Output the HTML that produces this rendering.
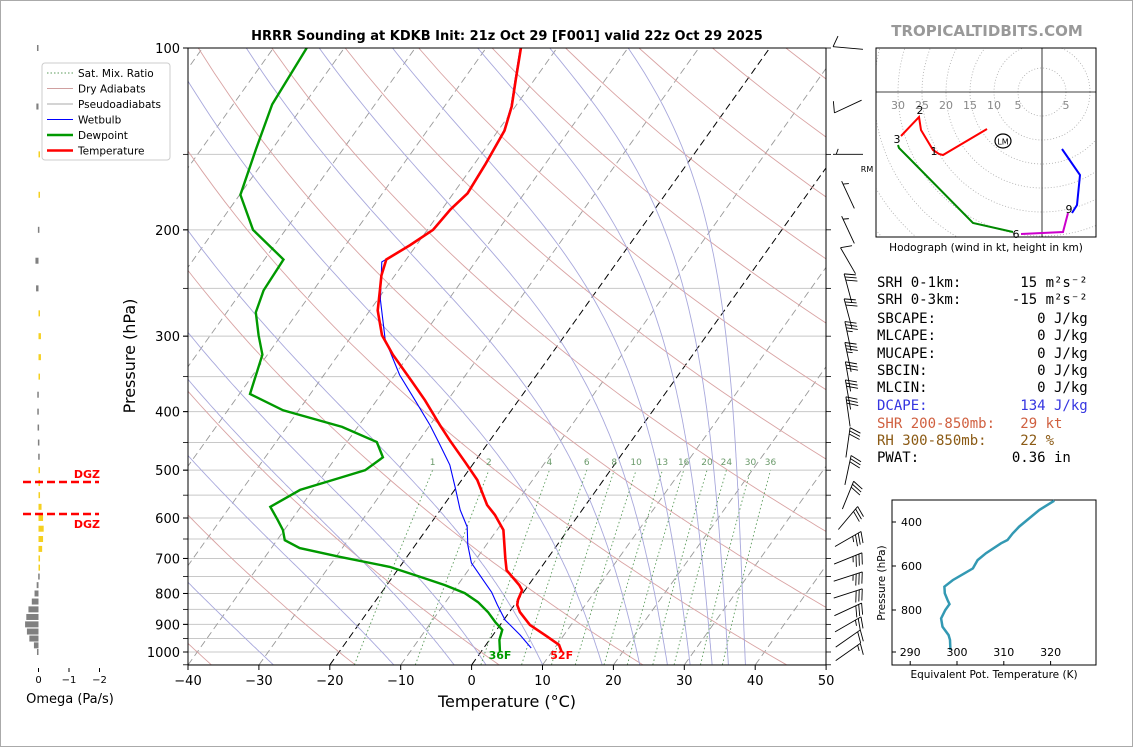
<!DOCTYPE html>
<html><head><meta charset="utf-8"><style>
body{margin:0;background:#fff}
svg text{font-family:"DejaVu Sans","Liberation Sans",sans-serif}
svg text.mono{font-family:"DejaVu Sans Mono","Liberation Mono",monospace;font-size:14px;white-space:pre}
</style></head><body>
<svg id="s" width="1134" height="748" xmlns="http://www.w3.org/2000/svg">
<rect x="0.5" y="0.5" width="1132" height="746" fill="#fff" stroke="#aaa"/>
<defs>
<clipPath id="pc"><rect x="188" y="48" width="638" height="617"/></clipPath>
<clipPath id="hc"><rect x="876" y="48" width="220" height="189"/></clipPath>
</defs>
<g id="bg" clip-path="url(#pc)"></g>
<g id="data" clip-path="url(#pc)"></g>
<rect x="188" y="48" width="638" height="617" fill="none" stroke="#000" stroke-width="1"/>
<g id="axes"></g>
<text x="507" y="40" text-anchor="middle" font-size="13" font-weight="bold">HRRR Sounding at KDKB Init: 21z Oct 29 [F001] valid 22z Oct 29 2025</text>
<text x="987" y="36" text-anchor="middle" font-size="15" font-weight="bold" fill="#999">TROPICALTIDBITS.COM</text>
<text x="507" y="707" text-anchor="middle" font-size="16">Temperature (°C)</text>
<text transform="translate(135,356) rotate(-90)" text-anchor="middle" font-size="16">Pressure (hPa)</text>
<g id="legend"></g>
<g id="omega"></g>
<g id="barbs"></g>
<g id="hodo"></g>
<g id="stats"></g>
<g id="thetae"></g>
</svg>
<script>
// ---- data ----
const tempP=[1000,973,937,902,859,836,820,790,775,732,699,628,593,571,519,485,446,421,383,354,322,299,272,252,238,224,212,200,185,174,156,137,125,113,100];
const tempT=[11.4,10.3,7.3,4.2,1.5,0.4,0.0,-0.4,-1.3,-4.6,-6.0,-9.1,-11.8,-13.9,-17.8,-21.3,-25.7,-28.6,-33.2,-37.3,-42.3,-45.8,-48.9,-50.6,-51.9,-52.8,-50.9,-49.2,-48.8,-48.0,-48.4,-49.1,-50.5,-52.6,-55.1];
const dewP=[1000,955,919,892,859,827,799,775,751,723,696,673,653,628,605,575,539,515,500,476,449,424,398,374,322,299,274,252,224,200,175,147,124,100];
const dewT=[2.7,1.4,0.8,-1.0,-3.0,-5.4,-8.2,-11.8,-16.1,-21.4,-29.4,-36.0,-38.9,-40.2,-41.9,-44.3,-41.8,-37.4,-34.6,-33.4,-35.8,-42.2,-52.2,-58.5,-60.7,-63.2,-65.9,-67.0,-67.3,-74.6,-79.9,-82.3,-84.5,-85.3];
const wbP=[985,937,885,836,796,766,712,665,621,582,535,490,454,421,383,348,304,261,226,212,200,185,174,156,137,125,113,100];
const wbT=[6.7,3.8,0.2,-2.4,-4.5,-6.5,-10.3,-12.6,-14.5,-17.2,-20.1,-23.2,-26.6,-30.0,-34.6,-39.3,-44.9,-49.6,-53.2,-51.0,-49.3,-48.9,-48.1,-48.5,-49.2,-50.6,-52.7,-55.2];
const omegaP=[100,125,150,175,200,225,250,275,300,325,350,375,400,425,450,475,500,525,550,575,600,625,650,675,700,725,750,775,800,825,850,875,900,925,950,975,1000];
const omegaV=[0.05,0.07,-0.03,-0.03,0.02,0.1,0.08,-0.02,-0.08,-0.08,-0.01,0.04,0.04,0.03,0.02,0.01,-0.02,-0.02,-0.05,-0.1,-0.15,-0.17,-0.15,-0.12,-0.05,-0.02,0.01,0.06,0.13,0.22,0.33,0.4,0.44,0.38,0.3,0.15,0.05];
const barbP=[100,125,150,175,200,225,250,275,300,325,350,375,400,450,500,550,600,650,700,750,800,850,900,950,1000];
const barbDir=[275,245,270,335,335,330,345,345,348,348,350,350,352,8,12,22,40,60,68,72,72,65,60,55,55];
const barbSpd=[10,10,5,5,5,10,30,30,35,35,30,30,30,30,30,30,30,35,35,35,30,30,25,20,15];
const thetaeP=[303,345,421,452,482,497,542,573,611,633,664,694,724,755,773,800,838,876,914,936,982];
const thetaeV=[320.8,317.6,313.3,311.9,310.8,309.4,306.2,304.4,303.4,301.6,299.1,297.3,297.4,298.0,298.4,297.5,296.6,296.9,298.2,298.5,298.6];
const xTicks=[-40,-30,-20,-10,0,10,20,30,40,50];
const pTicks=[100,200,300,400,500,600,700,800,900,1000];
const mixW=[1,2,4,6,8,10,13,16,20,24,30,36];
const hodoRed=[[987,129],[943,155],[939,154],[933,150],[921,130],[919,117],[901,136]];
const hodoGreen=[[898,145],[899,148],[908,157],[973,223],[1013,232]];
const hodoMag=[[1021,234],[1063,232],[1068,213]];
const hodoBlue=[[1072,213],[1077,205],[1080,175],[1062,149]];

const NS="http://www.w3.org/2000/svg";
function el(tag,attrs,parent){const e=document.createElementNS(NS,tag);for(const k in attrs)e.setAttribute(k,attrs[k]);parent.appendChild(e);return e;}
function yP(p){return 48+604*Math.log10(p/100);}
function xT(T,p){return 188+(T+40)*7.09+0.713*(665-yP(p));}
const bg=document.getElementById('bg');
function poly(pts,attrs,parent,name){const e=el('polyline',Object.assign({points:pts.map(q=>q[0].toFixed(1)+','+q[1].toFixed(1)).join(' '),fill:'none'},attrs),parent);return e;}
for(let p=100;p<=1050;p+=50){const y=yP(p);const l=el('line',{x1:188,x2:826,y1:y,y2:y,stroke:'#c8c8c8','stroke-width':1},bg);}
for(let T=-120;T<=50;T+=10){const blk=(T===0||T===-20);const l=el('line',{x1:xT(T,1050),y1:yP(1050),x2:xT(T,100),y2:yP(100),stroke:blk?'#000':'#999','stroke-width':blk?1:0.9,'stroke-dasharray':'7,4'},bg);}
// dry adiabats every 20 K
for(let th=173.15;th<=573.15;th+=20){const pts=[];for(let p=1050;p>=100;p-=10){pts.push([xT(th*Math.pow(p/1000,0.2857)-273.15,p),yP(p)]);}poly(pts,{stroke:'#d9a3a3','stroke-width':0.9},bg,'dry-adiabat');}
function es(Tc){return 6.112*Math.exp(17.67*Tc/(Tc+243.5));}
function step(T,p,dp){const e=es(T-273.15);const rs=0.622*e/(p-e);const Lv=2.5e6,Rd=287,cp=1005;const d=(Rd*T+Lv*rs)/(p*(cp+Lv*Lv*rs*0.622/(Rd*T*T)));return T+d*dp;}
[-60,-44,-28,-11,-2.5,2,10,18.4,23.7,27.6,30.8,33.9,36.2,38.6].forEach(T0=>{let T=T0+273.15;const pts=[];
 for(let pp=1050;pp>=100;pp-=5){pts.push([xT(T-273.15,pp),yP(pp)]);T=step(T,pp,-5);}
 poly(pts,{stroke:'#a8a8dc','stroke-width':0.9},bg,'moist-adiabat');});
mixW.forEach(w=>{const pts=[];for(let p=1050;p>=500;p-=10){const e=w*p/(622+w);const L=Math.log(e/6.112);pts.push([xT(243.5*L/(17.67-L),p),yP(p)]);}
 poly(pts,{stroke:'#5a9a5a','stroke-width':0.9,'stroke-dasharray':'1.5,2.5'},bg,'mixing-ratio-line');
 const t=el('text',{x:pts[pts.length-1][0],y:465,'font-size':9,fill:'#6a9a6a','text-anchor':'middle'},document.getElementById('s'));t.textContent=w;});
const dg=document.getElementById('data');
poly(wbP.map((p,i)=>[xT(wbT[i],p),yP(p)]),{stroke:'#0000ff','stroke-width':1.1},dg,'wetbulb-line');
poly(dewP.map((p,i)=>[xT(dewT[i],p),yP(p)]),{stroke:'#009900','stroke-width':2.4},dg,'dewpoint-line');
poly(tempP.map((p,i)=>[xT(tempT[i],p),yP(p)]),{stroke:'#ff0000','stroke-width':2.6},dg,'temperature-line');
const svg=document.getElementById('s');
let t=el('text',{x:xT(dewT[0],1000),y:659,'font-size':11,'font-weight':'bold',fill:'#009900','text-anchor':'middle'},svg);t.textContent='36F';


t=el('text',{x:xT(tempT[0],1000),y:659,'font-size':11,'font-weight':'bold',fill:'#ff0000','text-anchor':'middle'},svg);t.textContent='52F';


const ax=document.getElementById('axes');
xTicks.forEach(T=>{const x=188+(T+40)*7.09;el('line',{x1:x,x2:x,y1:665,y2:670,stroke:'#000'},ax);const tx=el('text',{x:x,y:685,'font-size':13,'text-anchor':'middle'},ax);tx.textContent=(T<0?'\u2212':'')+Math.abs(T);});
pTicks.forEach(p=>{const y=yP(p);el('line',{x1:183,x2:188,y1:y,y2:y,stroke:'#000'},ax);const tx=el('text',{x:180,y:y+5,'font-size':13,'text-anchor':'end'},ax);tx.textContent=p;});
for(let p=100;p<=1050;p+=50){const y=yP(p);el('line',{x1:183,x2:188,y1:y,y2:y,stroke:'#000','stroke-width':0.8},ax);el('line',{x1:826,x2:831,y1:y,y2:y,stroke:'#000','stroke-width':0.8},ax);}
const lg=document.getElementById('legend');
el('rect',{x:42,y:63,width:128,height:97,fill:'#fff',stroke:'#ccc',rx:3},lg);
[['Sat. Mix. Ratio','#5a9a5a',1,'1.5,2'],['Dry Adiabats','#d0a0a0',1,''],['Pseudoadiabats','#aaa',1,''],['Wetbulb','#0000ff',1,''],['Dewpoint','#009900',2.4,''],['Temperature','#ff0000',2.4,'']].forEach((r,i)=>{const y=73+i*15.5;const g=el('g',{},lg);el('line',{x1:47,x2:73,y1:y,y2:y,stroke:r[1],'stroke-width':r[2],'stroke-dasharray':r[3]},g);const tx=el('text',{x:78,y:y+4,'font-size':10.5},g);tx.textContent=r[0];});
const om=document.getElementById('omega');
omegaP.forEach((p,i)=>{const v=omegaV[i];const y=yP(p);const w=Math.abs(v)*30.5;const x=v>0?38.5-w:38.5;const r=el('rect',{x:x,y:y-3,width:Math.max(w,1.5),height:6,fill:v>0?'#808080':'#f5d020'},om);});
[[0,'0'],[-1,'\u22121'],[-2,'\u22122']].forEach(a=>{const x=38.5-a[0]*30.5;el('line',{x1:x,x2:x,y1:668,y2:672,stroke:'#000'},om);const tx=el('text',{x:x,y:683,'font-size':10,'text-anchor':'middle'},om);tx.textContent=a[1];});
t=el('text',{x:70,y:703,'font-size':13,'text-anchor':'middle'},om);t.textContent='Omega (Pa/s)';
[482,514].forEach((y,i)=>{el('line',{x1:23,x2:99,y1:y,y2:y,stroke:'#ff0000','stroke-width':2.5,'stroke-dasharray':'8,4'},om);const tx=el('text',{x:100,y:i?528:478,'font-size':11,'font-weight':'bold',fill:'#ff0000','text-anchor':'end'},om);tx.textContent='DGZ';});
const bb=document.getElementById('barbs');
barbP.forEach((p,i)=>{const a=barbDir[i]*Math.PI/180,cx=848,cy=yP(p),L=30;const vx=Math.sin(a),vy=-Math.cos(a),px=Math.cos(a),py=Math.sin(a);
 const g=el('g',{stroke:'#000','stroke-width':0.9,fill:'none'},bb);
 const x1=cx+vx*L/2,y1=cy+vy*L/2;el('line',{x1:cx-vx*L/2,y1:cy-vy*L/2,x2:x1,y2:y1},g);
 let s=barbSpd[i],k=0;const full=Math.floor(s/10),half=(s%10)>=5?1:0;
 for(let f=0;f<full;f++){const bx=x1-vx*k*3.2,by=y1-vy*k*3.2;el('line',{x1:bx,y1:by,x2:bx+px*11-vx*4,y2:by+py*11-vy*4},g);k++;}
 if(half){if(k===0)k=1;const bx=x1-vx*k*3.2,by=y1-vy*k*3.2;el('line',{x1:bx,y1:by,x2:bx+px*5.5-vx*2,y2:by+py*5.5-vy*2},g);}
});
const hd=document.getElementById('hodo');
const hg=el('g',{'clip-path':'url(#hc)'},hd);
for(let r=5;r<=50;r+=5){el('circle',{cx:1042,cy:92,r:r*4.8,fill:'none',stroke:'#aaa','stroke-width':0.8,'stroke-dasharray':'1,2'},hg);}
el('line',{x1:876,x2:1096,y1:92,y2:92,stroke:'#000','stroke-width':0.8},hd);
el('line',{x1:1042,x2:1042,y1:48,y2:237,stroke:'#000','stroke-width':0.8},hd);
el('rect',{x:876,y:48,width:220,height:189,fill:'none',stroke:'#000'},hd);
[[30,-1],[25,-1],[20,-1],[15,-1],[10,-1],[5,-1],[5,1]].forEach(a=>{const tx=el('text',{x:1042+a[1]*a[0]*4.8,y:109,'font-size':11,fill:'#888','text-anchor':'middle'},hd);tx.textContent=a[0];});
poly(hodoRed,{stroke:'#ff0000','stroke-width':2},hd,'hodo-0-3km');
poly(hodoGreen,{stroke:'#008800','stroke-width':2},hd,'hodo-3-6km');
poly(hodoMag,{stroke:'#cc00cc','stroke-width':2},hd,'hodo-6-9km');
poly(hodoBlue,{stroke:'#0000ff','stroke-width':2},hd,'hodo-9km-plus');
[['1',934,155],['2',920,114],['3',897,143],['6',1016,238],['9',1069,213]].forEach(a=>{const tx=el('text',{x:a[1],y:a[2],'font-size':11,'text-anchor':'middle'},hd);tx.textContent=a[0];});
el('ellipse',{cx:1003,cy:141,rx:8,ry:7,fill:'none',stroke:'#000','stroke-width':1.2},hd);
t=el('text',{x:1003,y:144.5,'font-size':8,'text-anchor':'middle'},hd);t.textContent='LM';
t=el('text',{x:867,y:172,'font-size':8,'text-anchor':'middle'},hd);t.textContent='RM';
t=el('text',{x:986,y:251,'font-size':10.5,'text-anchor':'middle'},hd);t.textContent='Hodograph (wind in kt, height in km)';
const st=document.getElementById('stats');
[['SRH 0-1km:       15 m²s⁻²','#000',287],['SRH 0-3km:      -15 m²s⁻²','#000',304],['SBCAPE:            0 J/kg','#000',323],['MLCAPE:            0 J/kg','#000',340],['MUCAPE:            0 J/kg','#000',358],['SBCIN:             0 J/kg','#000',375],['MLCIN:             0 J/kg','#000',392],['DCAPE:           134 J/kg','#3535e0',410],['SHR 200-850mb:   29 kt','#d06040',428],['RH 300-850mb:    22 %','#8b5a14',445],['PWAT:           0.36 in','#000',462]].forEach(r=>{const tx=el('text',{x:877,y:r[2],fill:r[1],'class':'mono'},st);tx.textContent=r[0];});
const te=document.getElementById('thetae');
function txE(v){return 957+(v-300)*4.68;}function tyE(p){return 522+(p-400)*0.22;}
el('rect',{x:892,y:500,width:204,height:165,fill:'#fff',stroke:'#000'},te);
poly(thetaeP.map((p,i)=>[txE(thetaeV[i]),tyE(p)]),{stroke:'#3399b3','stroke-width':2.5},te,'theta-e-line');
[400,600,800].forEach(p=>{el('line',{x1:892,x2:896,y1:tyE(p),y2:tyE(p),stroke:'#000'},te);const tx=el('text',{x:901,y:tyE(p)+4,'font-size':11},te);tx.textContent=p;});
[290,300,310,320].forEach(v=>{el('line',{x1:txE(v),x2:txE(v),y1:661,y2:665,stroke:'#000'},te);const tx=el('text',{x:txE(v),y:656,'font-size':11,'text-anchor':'middle'},te);tx.textContent=v;});
el('line',{x1:892,x2:896,y1:652,y2:652,stroke:'#000'},te);
t=el('text',{x:994,y:678,'font-size':10.5,'text-anchor':'middle'},te);t.textContent='Equivalent Pot. Temperature (K)';
t=el('text',{transform:'translate(885,583) rotate(-90)','font-size':10.5,'text-anchor':'middle'},te);t.textContent='Pressure (hPa)';
</script>
</body></html>
